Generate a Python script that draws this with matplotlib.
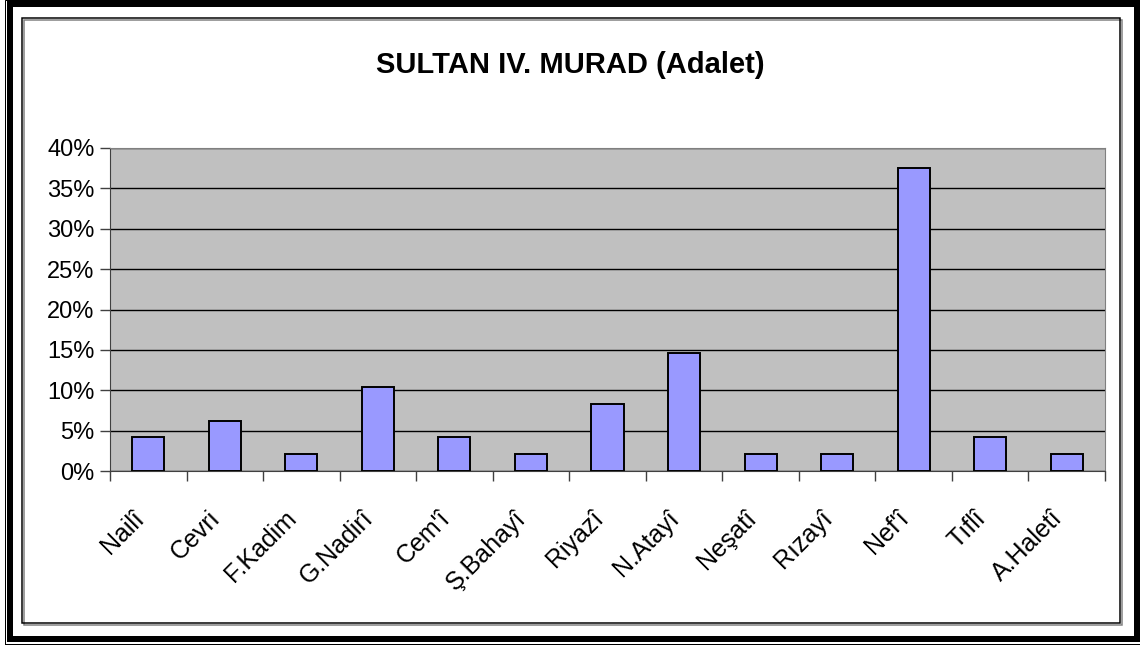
import numpy as np
import matplotlib
matplotlib.use("Agg")
import matplotlib.pyplot as plt
from matplotlib.patches import Rectangle
from matplotlib.ticker import FixedLocator, NullFormatter

plt.rcParams['font.family'] = ['Liberation Sans', 'DejaVu Sans']

names = ['Nailî', 'Cevri', 'F.Kadim', 'G.Nadirî', "Cem'î", 'Ş.Bahayî', 'Riyazî',
         'N.Atayî', 'Neşatî', 'Rızayî', "Nef'î", 'Tıflî', 'A.Haletî']
shares = [4.17, 6.25, 2.08, 10.42, 4.17, 2.08, 8.33, 14.58, 2.08, 2.08, 37.5, 4.17, 2.08]
yticks = [0, 5, 10, 15, 20, 25, 30, 35, 40]

W, H = 1140, 645
fig = plt.figure(figsize=(W / 100, H / 100), dpi=100)

def px_rect(x0, y0, x1, y1, lw, color='black'):
    # rectangle given in image pixels (y down)
    r = Rectangle((x0 / W, 1 - y1 / H), (x1 - x0) / W, (y1 - y0) / H,
                  transform=fig.transFigure, fill=False, edgecolor=color,
                  linewidth=lw * 0.72, zorder=10)
    fig.add_artist(r)

# outer frames
px_rect(5, 0, 1145, 644, 1)
px_rect(10.5, 3.5, 1136.5, 638.5, 6)
px_rect(24, 20, 1122, 625, 1.5, color='#808080')
px_rect(22, 18, 1120, 623, 1.5)

ax = fig.add_axes([110 / W, 1 - 471 / H, (1105 - 110) / W, (471 - 148) / H])
ax.set_facecolor('#C0C0C0')

x = np.arange(len(names))
ax.bar(x, shares, width=0.42, color='#9999FF', edgecolor='black', linewidth=1.4, zorder=3)

ax.set_xlim(-0.5, len(names) - 0.5)
ax.set_ylim(0, 40)
ax.set_yticks(yticks)
ax.set_yticklabels([f'{v}%' for v in yticks], fontsize=17)
ax.yaxis.grid(True, color='black', linewidth=1.0, zorder=1)
ax.set_axisbelow(True)

ax.xaxis.set_major_locator(FixedLocator(np.arange(-0.5, len(names), 1.0)))
ax.xaxis.set_major_formatter(NullFormatter())
ax.tick_params(axis='x', length=7, width=1, color='#404040')
ax.tick_params(axis='y', length=7, width=1, color='#404040', pad=4)

for xi, name in zip(x, names):
    ax.text(xi - 0.11, -5.4, name, rotation=45, ha='right', va='center',
            rotation_mode='anchor', fontsize=18)

for side in ['top', 'right']:
    ax.spines[side].set_color('#808080')
for side in ['left', 'bottom']:
    ax.spines[side].set_color('#404040')

fig.text(0.5, 1 - 65 / H, 'SULTAN IV. MURAD (Adalet)', ha='center', va='center',
         fontsize=21, fontweight='bold')

fig.savefig('out.png', dpi=100)
